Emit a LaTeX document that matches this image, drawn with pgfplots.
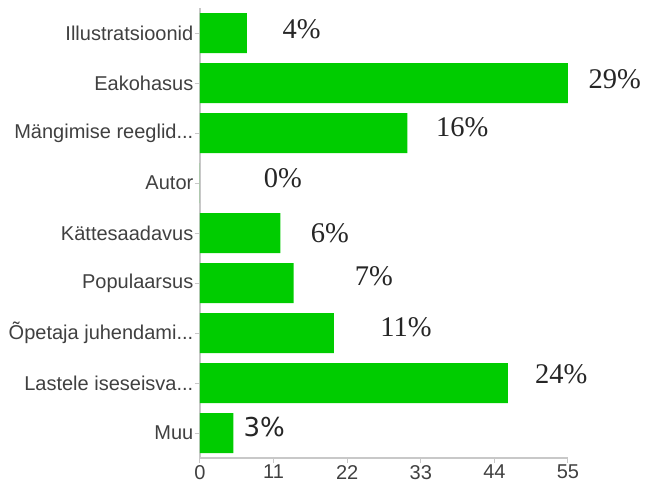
\documentclass[border=0pt]{standalone}
\usepackage{fontspec}
\setmainfont{Liberation Sans}
\newfontfamily\pctfont{Liberation Serif}
\newfontfamily\dejavu{DejaVu Sans}
\usepackage{pgfplots}
\usepackage{pgfplotstable}
\pgfplotsset{compat=1.18}
\definecolor{bargreen}{HTML}{00CC00}
\definecolor{axgray}{HTML}{C8C8C8}
\definecolor{txtgray}{HTML}{404040}

\pgfplotstableread{
y x
0 7
1 55
2 31
3 0
4 12
5 14
6 20
7 46
8 5
}\bars

\pgfplotstableread{
x y p
15.2 -0.08 4
62.0 0.92 29
39.2 1.88 16
12.4 2.90 0
19.4 4.00 6
26.0 4.86 7
30.8 5.88 11
54.0 6.82 24
}\labs

\pgfplotstableread{
x y p
9.6 7.88 3
}\labsb

\begin{document}
\begin{tikzpicture}
\useasboundingbox (-200pt,-30pt) rectangle (445pt,458pt);
\begin{axis}[
  at={(0,0)}, anchor=south west,
  scale only axis, width=368pt, height=450pt,
  xmin=0, xmax=55, ymin=-0.5, ymax=8.5, y dir=reverse,
  xtick={0,11,22,33,44,55},
  ytick={0,1,2,3,4,5,6,7,8},
  yticklabels={Illustratsioonid,Eakohasus,Mängimise reeglid.\relax..,Autor,Kättesaadavus,Populaarsus,Õpetaja juhendami.\relax..,Lastele iseseisva.\relax..,Muu},
  axis x line*=bottom, axis y line*=left,
  axis line style={draw=axgray, line width=1.2pt, -},
  tick style={draw=axgray, line width=1pt},
  tick align=outside, major tick length=5pt,
  /pgf/number format/assume math mode=true,
  y tick label style={font=\fontsize{20}{20}\selectfont, text=txtgray, inner sep=1.5pt},
  x tick label style={font=\fontsize{20}{20}\selectfont, text=txtgray, inner sep=2pt},
  clip=false,
]
\addplot[xbar, bar width=40pt, fill=bargreen, draw=none] table[x=x, y=y] {\bars};
\addplot[draw=none, mark=none, nodes near coords, point meta=explicit,
  nodes near coords={\pgfmathprintnumber{\pgfplotspointmeta}\%},
  every node near coord/.style={anchor=center, font=\pctfont\fontsize{28.5}{28.5}\selectfont, text=black!85}]
  table[x=x, y=y, meta=p] {\labs};
\addplot[draw=none, mark=none, nodes near coords, point meta=explicit,
  nodes near coords={\pgfmathprintnumber{\pgfplotspointmeta}\%},
  every node near coord/.style={anchor=center, font=\dejavu\fontsize{26}{26}\selectfont, text=black!85}]
  table[x=x, y=y, meta=p] {\labsb};
\end{axis}
\end{tikzpicture}
\end{document}
